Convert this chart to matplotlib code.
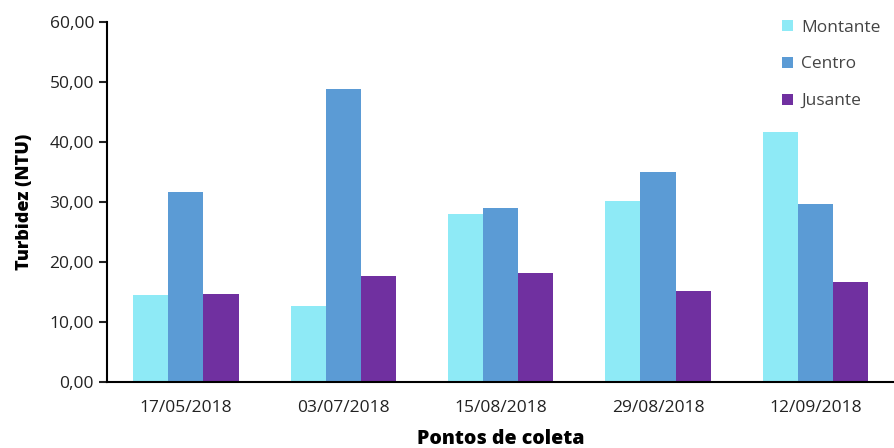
import numpy as np
import matplotlib.pyplot as plt
from matplotlib.ticker import FuncFormatter

plt.rcParams['font.family'] = ['Open Sans', 'DejaVu Sans']

datas = ["17/05/2018", "03/07/2018", "15/08/2018", "29/08/2018", "12/09/2018"]
montante = [14.5, 12.7, 28.0, 30.1, 41.6]
centro = [31.6, 48.9, 29.0, 35.0, 29.6]
jusante = [14.7, 17.7, 18.1, 15.1, 16.7]

series = [("Montante", montante, "#8EEAF6"),
          ("Centro", centro, "#5B9BD5"),
          ("Jusante", jusante, "#7030A0")]

fig = plt.figure(figsize=(8.94, 4.48), dpi=100)
ax = fig.add_axes([0.12, 0.147, 0.88, 0.804])

x = np.arange(len(datas))
w = 0.223
for i, (nome, vals, cor) in enumerate(series):
    ax.bar(x + (i - 1) * w, vals, w, color=cor, label=nome)

ax.set_xlim(-0.5, 4.5)
ax.set_ylim(0, 60)
ax.set_yticks(np.arange(0, 61, 10))
ax.yaxis.set_major_formatter(FuncFormatter(lambda v, p: f"{v:.2f}".replace(".", ",")))
ax.set_xticks(x)
ax.set_xticklabels(datas)
ax.tick_params(axis='y', labelsize=12.5, length=6, width=1.5, colors='#222222')
ax.tick_params(axis='x', labelsize=12.5, length=0, pad=13, colors='#222222')
for s in ['top', 'right']:
    ax.spines[s].set_visible(False)
for s in ['left', 'bottom']:
    ax.spines[s].set_linewidth(1.5)

ax.set_ylabel("Turbidez (NTU)", fontsize=13, fontweight='heavy', labelpad=12)
ax.set_xlabel("Pontos de coleta", fontsize=14, fontweight='heavy', labelpad=9)

ax.legend(loc='upper right', bbox_to_anchor=(1.003, 1.05), frameon=False, fontsize=12.5,
          handlelength=0.6, handleheight=0.6, handletextpad=0.5, labelspacing=1.2,
          labelcolor='#444444')

fig.savefig("out.png", dpi=100)
